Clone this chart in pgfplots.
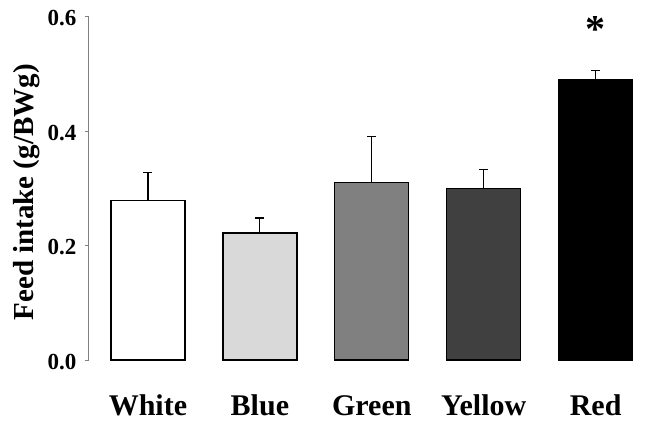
\documentclass[border=0pt]{standalone}
\usepackage{fontspec}
\setmainfont{Liberation Serif}
\usepackage{pgfplots}
\pgfplotsset{compat=1.18}
\usetikzlibrary{calc}
\definecolor{cWhite}{RGB}{255,255,255}
\definecolor{cBlue}{RGB}{217,217,217}
\definecolor{cGreen}{RGB}{128,128,128}
\definecolor{cYellow}{RGB}{64,64,64}
\definecolor{cRed}{RGB}{0,0,0}
\definecolor{axisgray}{RGB}{128,128,128}

\begin{document}
\begin{tikzpicture}
\begin{axis}[
    name=a,
    scale only axis,
    width=557pt, height=343.5pt,
    xmin=-0.527, xmax=4.45,
    ymin=0, ymax=0.6,
    axis lines*=left,
    x axis line style={draw=none},
    y axis line style={draw=axisgray, line width=1pt},
    tick align=outside,
    major tick length=4pt,
    xtick={0,1,2,3,4},
    xticklabels={White,Blue,Green,Yellow,Red},
    xtick style={draw=none},
    ytick={0,0.2,0.4,0.6},
    ytick style={draw=axisgray, line width=1pt},
    /pgf/number format/assume math mode=true,
    yticklabel style={/pgf/number format/fixed, /pgf/number format/fixed zerofill,
        /pgf/number format/precision=1,
        font=\fontsize{23}{27}\selectfont\bfseries, yshift=-2pt, xshift=-5pt},
    xticklabel style={font=\fontsize{30}{34}\selectfont\bfseries, anchor=base, yshift=-51pt},
    ylabel={Feed intake (g/BWg)},
    every axis y label/.style={at={(axis description cs:-0.1,0.488)}, rotate=90, anchor=base,
        font=\fontsize{29}{34}\selectfont\bfseries},
    ybar, bar width=74pt, bar shift=0pt,
    error bars/y dir=plus, error bars/y explicit,
    error bars/error mark=-,
    error bars/error bar style={black, line width=1.2pt},
    error bars/error mark options={rotate=90, black, line width=1.2pt, mark size=4.5pt},
    every axis plot/.append style={draw=black, line width=1.3pt},
]
\addplot[fill=cWhite] coordinates {(0,0.279) +- (0,0.048)};
\addplot[fill=cBlue] coordinates {(1,0.222) +- (0,0.026)};
\addplot[fill=cGreen] coordinates {(2,0.310) +- (0,0.081)};
\addplot[fill=cYellow] coordinates {(3,0.299) +- (0,0.034)};
\addplot[fill=cRed] coordinates {(4,0.489) +- (0,0.016)};
\node[font=\fontsize{40}{44}\selectfont\bfseries] at (axis cs:4,0.578) {*};
\end{axis}
\pgfresetboundingbox
\path ($(a.south west)+(-89pt,-66pt)$) rectangle ($(a.north east)+(0pt,16.5pt)$);
\end{tikzpicture}
\end{document}
